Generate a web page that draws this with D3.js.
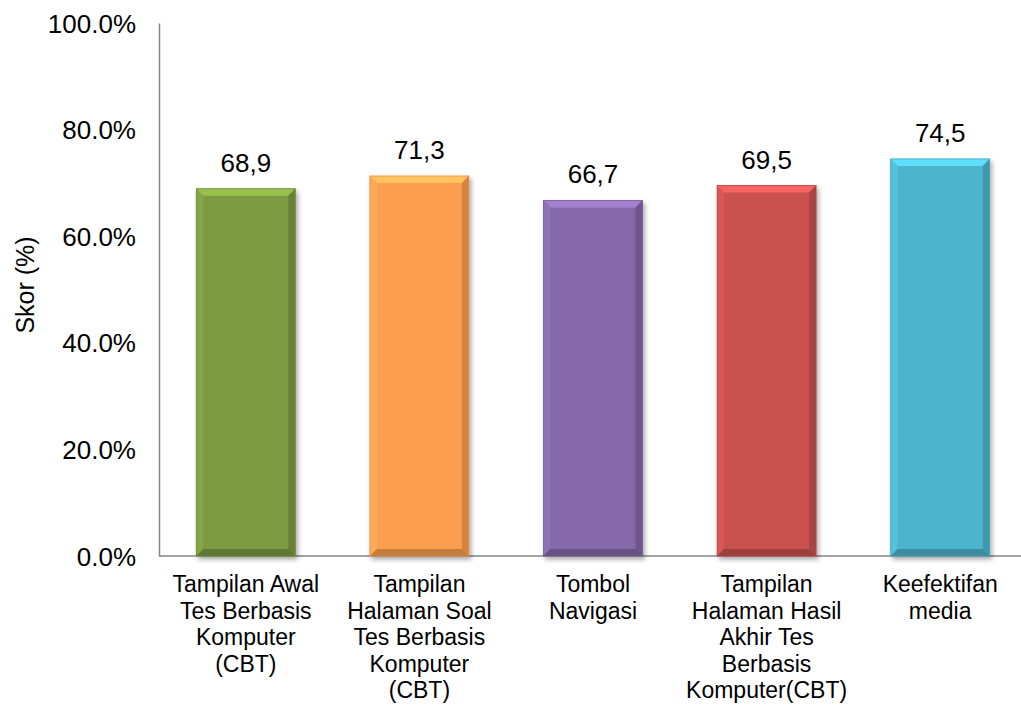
<!DOCTYPE html>
<head>
    <meta charset="utf-8">
    <script src="https://d3js.org/d3.v7.min.js"></script>
    <style>
        body { margin: 0; background: #fff; }
        text { font-family: "Liberation Sans", Arial, sans-serif; fill: #000; }
    </style>
</head>
<body>
    <svg width="1021" height="710"></svg>
    <script>
        var width = 1021, height = 710;

        // data
        var categories = [
            ["Tampilan Awal", "Tes Berbasis", "Komputer", "(CBT)"],
            ["Tampilan", "Halaman Soal", "Tes Berbasis", "Komputer", "(CBT)"],
            ["Tombol", "Navigasi"],
            ["Tampilan", "Halaman Hasil", "Akhir Tes", "Berbasis", "Komputer(CBT)"],
            ["Keefektifan", "media"]
        ];
        var values = [68.9, 71.3, 66.7, 69.5, 74.5];
        var valueLabels = ["68,9", "71,3", "66,7", "69,5", "74,5"];
        var colors = ["#7b9b3f", "#fb9e4e", "#8468a8", "#c9514f", "#4db4cd"];
        var yTicks = [0, 0.2, 0.4, 0.6, 0.8, 1.0];

        var svg = d3.select("svg");

        var x = d3.scaleBand()
            .domain(d3.range(values.length))
            .range([159, 1027])
            .paddingInner(0.43)
            .paddingOuter(0.215);

        var y = d3.scaleLinear()
            .domain([0, 1])
            .range([556, 23]);

        // shadow filter
        var defs = svg.append("defs");
        var f = defs.append("filter").attr("id", "shadow")
            .attr("x", "-20%").attr("y", "-20%").attr("width", "140%").attr("height", "140%");
        f.append("feGaussianBlur").attr("in", "SourceAlpha").attr("stdDeviation", 2.5);
        f.append("feOffset").attr("dx", 2).attr("dy", 3).attr("result", "b");
        f.append("feComponentTransfer").append("feFuncA").attr("type", "linear").attr("slope", 0.35);
        var m = f.append("feMerge");
        m.append("feMergeNode");
        m.append("feMergeNode").attr("in", "SourceGraphic");

        // y axis
        var yAxis = svg.append("g")
            .attr("transform", "translate(159,0)")
            .call(d3.axisLeft(y).tickValues(yTicks).tickFormat(d3.format(".1%")).tickSize(0).tickPadding(23));
        yAxis.select(".domain").attr("stroke", "#868686").attr("stroke-width", 1.5);
        yAxis.selectAll("text").style("font-size", "26px").attr("dy", "0.35em");

        // x axis line
        svg.append("line")
            .attr("x1", 159).attr("x2", width)
            .attr("y1", y(0)).attr("y2", y(0))
            .attr("stroke", "#868686").attr("stroke-width", 1.5);

        // bars with bevel
        var bev = 7;
        var bars = svg.append("g").selectAll("g")
            .data(values)
            .join("g")
            .attr("filter", "url(#shadow)");

        bars.each(function (d, i) {
            var g = d3.select(this);
            var x0 = x(i), x1 = x(i) + x.bandwidth();
            var y0 = y(d / 100), y1 = y(0);
            var c = d3.color(colors[i]);
            g.append("rect")
                .attr("x", x0).attr("y", y0)
                .attr("width", x1 - x0).attr("height", y1 - y0)
                .attr("fill", c);
            // top
            g.append("polygon")
                .attr("points", [[x0, y0], [x1, y0], [x1 - bev, y0 + bev], [x0 + bev, y0 + bev]].join(" "))
                .attr("fill", c.brighter(0.6));
            // left
            g.append("polygon")
                .attr("points", [[x0, y0], [x0 + bev, y0 + bev], [x0 + bev, y1 - bev], [x0, y1]].join(" "))
                .attr("fill", c.brighter(0.2));
            // right
            g.append("polygon")
                .attr("points", [[x1, y0], [x1 - bev, y0 + bev], [x1 - bev, y1 - bev], [x1, y1]].join(" "))
                .attr("fill", c.darker(0.5));
            // bottom
            g.append("polygon")
                .attr("points", [[x0, y1], [x0 + bev, y1 - bev], [x1 - bev, y1 - bev], [x1, y1]].join(" "))
                .attr("fill", c.darker(0.7));
            g.append("rect")
                .attr("x", x0).attr("y", y0)
                .attr("width", x1 - x0).attr("height", y1 - y0)
                .attr("fill", "none")
                .attr("stroke", c.darker(0.3)).attr("stroke-width", 0.8);
        });

        // value labels
        svg.append("g").selectAll("text")
            .data(values)
            .join("text")
            .attr("x", (d, i) => x(i) + x.bandwidth() / 2)
            .attr("y", d => y(d / 100) - 17)
            .attr("text-anchor", "middle")
            .style("font-size", "26px")
            .text((d, i) => valueLabels[i]);

        // category labels
        var cat = svg.append("g").selectAll("text")
            .data(categories)
            .join("text")
            .attr("x", (d, i) => x(i) + x.bandwidth() / 2)
            .attr("y", 592)
            .attr("text-anchor", "middle")
            .style("font-size", "23px");
        cat.selectAll("tspan")
            .data((d, i) => d.map(t => [t, i]))
            .join("tspan")
            .attr("x", d => x(d[1]) + x.bandwidth() / 2)
            .attr("dy", (d, j) => j === 0 ? 0 : 26.5)
            .text(d => d[0]);

        // y label
        svg.append("text")
            .attr("transform", "translate(34,285) rotate(-90)")
            .attr("text-anchor", "middle")
            .style("font-size", "25px")
            .text("Skor (%)");
    </script>
</body>
